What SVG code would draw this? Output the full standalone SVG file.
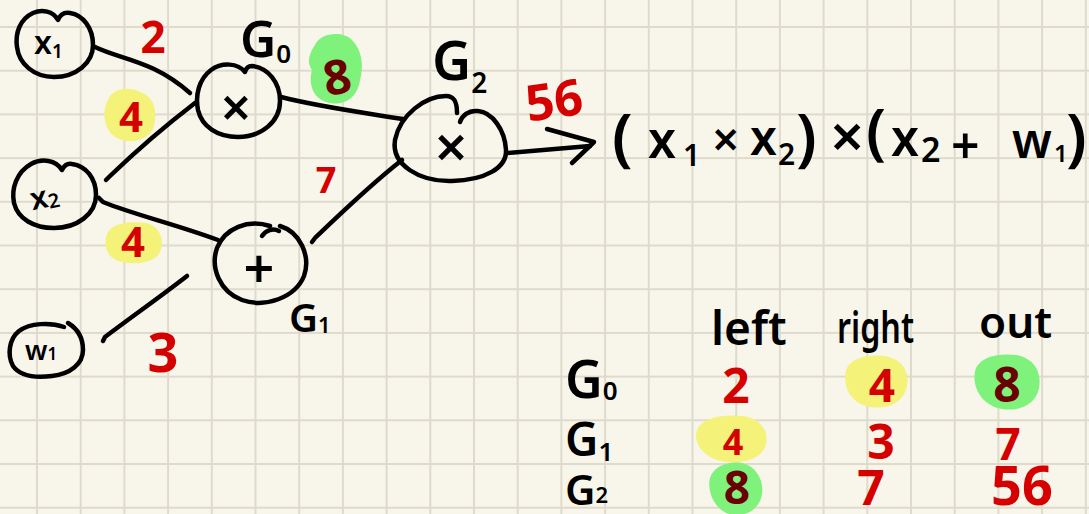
<svg xmlns="http://www.w3.org/2000/svg" width="1089" height="514" viewBox="0 0 1089 514">
<style>
.ink{fill:none;stroke:#000;stroke-width:4.5;stroke-linecap:round;stroke-linejoin:round}
.t{font-family:"Noto Sans","DejaVu Sans",sans-serif;font-weight:700;fill:#000}
.s{font-family:"Noto Sans","DejaVu Sans",sans-serif;font-weight:600;fill:#000}
.red{fill:#d50000}
.dark{fill:#6a0000}
.hy{fill:#f5f27a}
.hg{fill:#7ef27a}
.m{text-anchor:middle}
</style>
<defs>
<pattern id="grid" x="15.15" y="5.15" width="43.7" height="43.7" patternUnits="userSpaceOnUse">
<path d="M21.85,0 V43.7 M0,21.85 H43.7" stroke="#dedbcd" stroke-width="2" fill="none"/>
</pattern>
</defs>
<rect width="1089" height="514" fill="#f8f6eb"/>
<rect width="1089" height="514" fill="url(#grid)"/>

<g id="highlights">
<path class="hy" d="M108,100 C112,88 130,86 140,92 C154,96 158,112 154,126 C150,140 130,145 117,138 C104,131 101,112 108,100 Z"/>
<path class="hy" d="M108,232 C114,222 132,221 146,223 C160,226 165,240 160,252 C155,263 136,265 122,262 C106,259 102,243 108,232 Z"/>
<path class="hg" d="M315,45 C320,33 342,30 352,40 C362,50 364,66 360,80 C358,96 346,106 330,103 C313,100 308,84 312,70 C306,62 310,52 315,45 Z"/>
<path class="hy" d="M846,370 C850,358 868,354 884,356 C900,358 910,370 907,386 C904,402 888,410 870,407 C852,404 842,388 846,370 Z"/>
<path class="hg" d="M976,368 C982,356 1000,353 1016,355 C1034,358 1042,372 1039,388 C1036,404 1020,412 1002,409 C982,406 970,386 976,368 Z"/>
<path class="hy" d="M697,430 C702,418 722,414 742,416 C760,418 769,430 766,444 C763,458 745,464 726,462 C706,460 692,444 697,430 Z"/>
<path class="hg" d="M710,478 C714,466 728,461 742,463 C756,466 764,480 762,494 C760,508 748,516 734,515 C718,514 706,494 710,478 Z"/>
</g>

<g id="connectors">
<path class="ink" d="M95,47 C122,60 152,60 190,93"/>
<path class="ink" d="M106,180 L110,176 C135,152 165,126 195,103"/>
<path class="ink" d="M99,198 L103,202 C135,215 175,224 218,240"/>
<path class="ink" d="M103,341 L105,337 C130,318 160,297 187,276"/>
<path class="ink" d="M281,97 C320,107 360,112 403,119"/>
<path class="ink" d="M312,242 L315,238 C340,214 370,185 402,160"/>
<path class="ink" d="M507,153 L590,146"/>
<path class="ink" d="M547,129 L594,142 L572,163"/>
</g>

<g id="edge-labels">
<text class="t red m" x="153" y="53" font-size="44">2</text>
<text class="t red m" x="131" y="132" font-size="42">4</text>
<text class="t red m" x="133" y="257" font-size="42">4</text>
<text class="t red m" x="163" y="372" font-size="54">3</text>
<text class="t dark m" x="337" y="94" font-size="48" transform="rotate(-10 337 77)">8</text>
<text class="t red m" x="326" y="193" font-size="36">7</text>
<text class="t red m" x="554" y="118" font-size="50" transform="rotate(-8 554 100)">56</text>
</g>

<g id="node-x1">
<path class="ink" d="M58,20 C53,11 42,9 33,13 C20,19 15,33 17,47 C19,64 34,77 54,77 C76,77 93,63 93,45 C93,28 83,15 70,13 C64,12 60,15 58,20 Z"/>
<text class="s" x="34" y="54" font-size="32">x<tspan font-size="19" dy="4">1</tspan></text>
</g>

<g id="node-x2">
<path class="ink" d="M62,170 C56,160 42,158 31,164 C17,172 11,188 14,203 C18,219 34,228 54,228 C77,228 96,214 96,195 C96,178 86,166 72,164 C67,163 64,166 62,170 Z"/>
<text class="s" x="30" y="207" font-size="31" transform="rotate(-12 47 197)">x<tspan font-size="20" dy="2">2</tspan></text>
</g>

<g id="node-w1">
<path class="ink" d="M64,327 C50,322 30,323 19,331 C9,339 7,355 13,366 C20,376 36,378 52,376 C70,374 83,364 83,350 C83,339 78,329 68,323"/>
<text class="s" x="25" y="360" font-size="27">w<tspan font-size="17" dy="0">1</tspan></text>
</g>

<g id="node-g0">
<path class="ink" d="M245,72 C238,63 222,62 211,70 C199,79 195,95 198,110 C202,127 218,137 238,137 C261,137 280,122 280,101 C280,82 268,68 252,66 C248,66 246,68 245,72 Z"/>
<text class="s m" x="236" y="127" font-size="54">×</text>
<text class="s" x="240" y="57" font-size="50">G<tspan font-size="26" dy="6">0</tspan></text>
</g>

<g id="node-g1">
<path class="ink" d="M270,226 C248,219 225,228 217,248 C210,268 220,292 242,300 C265,308 295,298 304,276 C311,256 300,232 280,226"/>
<path class="ink" d="M262,236 C266,230 273,228 279,231"/>
<text class="s m" x="259" y="288" font-size="54">+</text>
<text class="s" x="289" y="332" font-size="40">G<tspan font-size="22" dy="1">1</tspan></text>
</g>

<g id="node-g2">
<path class="ink" d="M457,113 C457,103 455,96 446,96 C425,96 400,115 395,140 C391,165 420,182 452,181 C485,180 507,168 506,150 C505,130 492,112 478,111 C468,110 462,116 460,122"/>
<text class="s m" x="451" y="168" font-size="58">×</text>
<text class="s" x="432" y="80" font-size="54">G<tspan font-size="28" dy="13">2</tspan></text>
</g>

<g id="expression">
<text class="s" font-size="50"><tspan x="612" y="159" font-size="64">(</tspan><tspan x="648" y="158">x</tspan><tspan x="683" y="166" font-size="30">1</tspan><tspan x="712" y="157" font-size="48">×</tspan><tspan x="750" y="155" font-size="48">x</tspan><tspan x="778" y="165" font-size="30">2</tspan><tspan x="796" y="159" font-size="64">)</tspan><tspan x="830" y="158" font-size="60">×</tspan><tspan x="866" y="153" font-size="62">(</tspan><tspan x="891" y="156">x</tspan><tspan x="921" y="162" font-size="34">2</tspan><tspan x="951" y="164" font-size="50">+</tspan><tspan x="1012" y="158" font-size="48">w</tspan><tspan x="1054" y="162" font-size="24">1</tspan><tspan x="1066" y="159" font-size="64">)</tspan></text>
</g>

<g id="table">
<text class="s" x="711" y="345" font-size="46">left</text>
<text class="s" x="837" y="343" font-size="44" textLength="77" lengthAdjust="spacingAndGlyphs">right</text>
<text class="s" x="979" y="338" font-size="44">out</text>
<text class="s" x="565" y="398" font-size="52">G<tspan font-size="26" dy="2">0</tspan></text>
<text class="s" x="565" y="456" font-size="46">G<tspan font-size="26" dy="5">1</tspan></text>
<text class="s" x="565" y="505" font-size="42">G<tspan font-size="22" dy="-2">2</tspan></text>
<text class="t red m" x="736" y="403" font-size="48">2</text>
<text class="t red m" x="882" y="402" font-size="46">4</text>
<text class="t dark m" x="1007" y="402" font-size="48">8</text>
<text class="t red m" x="733" y="455" font-size="36">4</text>
<text class="t red m" x="881" y="459" font-size="48">3</text>
<text class="t red m" x="1008" y="460" font-size="44">7</text>
<text class="t dark m" x="737" y="504" font-size="46">8</text>
<text class="t red m" x="871" y="505" font-size="48">7</text>
<text class="t red m" x="1022" y="505" font-size="54">56</text>
</g>
</svg>
